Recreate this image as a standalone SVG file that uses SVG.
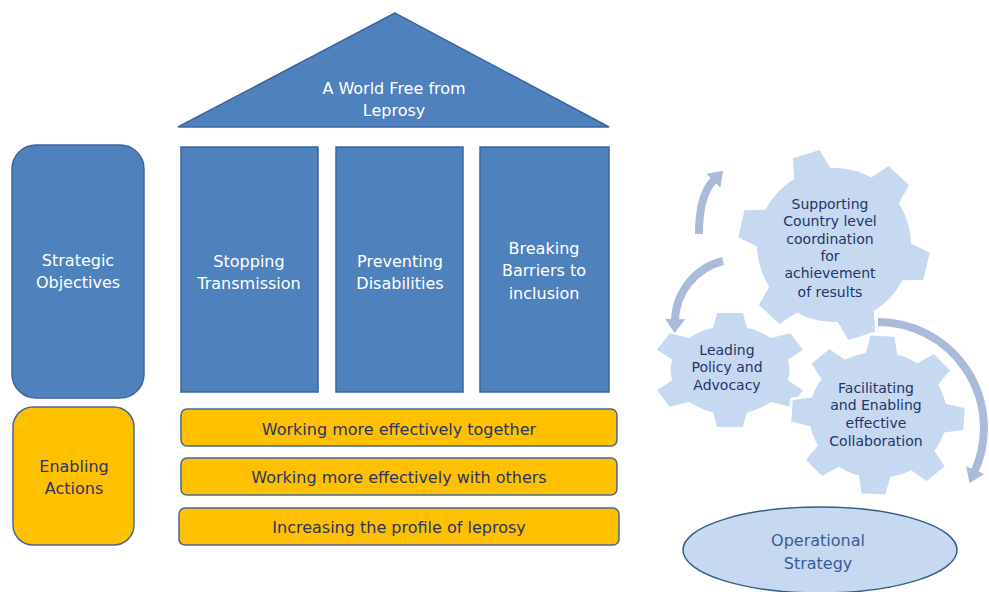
<svg xmlns="http://www.w3.org/2000/svg" xmlns:xlink="http://www.w3.org/1999/xlink" width="989" height="592" viewBox="0 0 989 592">
<style>
.blue{fill:#4F81BD;stroke:#3B64A0;stroke-width:1.5}
.yel{fill:#FFC000;stroke:#4A6796;stroke-width:1.5}
.tw{font-family:"DejaVu Sans",sans-serif;font-size:16px;fill:#FFFFFF;text-anchor:middle}
.td{font-family:"DejaVu Sans",sans-serif;font-size:16px;fill:#2B3566;text-anchor:middle}
.tg{font-family:"DejaVu Sans",sans-serif;font-size:14px;fill:#23346A;text-anchor:middle}
.te{font-family:"DejaVu Sans",sans-serif;font-size:16px;fill:#3A5C96;text-anchor:middle}
.gout{fill:#C6D9F0;stroke:#FFFFFF;stroke-width:5;stroke-linejoin:round}
.gfill{fill:#C6D9F0;stroke:none}
.arc{fill:none;stroke:#A9BBD8;stroke-width:8}
</style>
<defs>
<marker id="ah" markerUnits="userSpaceOnUse" viewBox="0 0 14 20" refX="1" refY="10" markerWidth="14" markerHeight="20" orient="auto">
<path d="M0,0 L14,10 L0,20 z" fill="#A9BBD8"/>
</marker>
<polygon id="tA" points="-20,-70 20,-70 14,-95 -14,-95"/>
<g id="gearA">
<circle r="77"/>
<use xlink:href="#tA" transform="rotate(-17)"/>
<use xlink:href="#tA" transform="rotate(43)"/>
<use xlink:href="#tA" transform="rotate(103)"/>
<use xlink:href="#tA" transform="rotate(163)"/>
<use xlink:href="#tA" transform="rotate(223)"/>
<use xlink:href="#tA" transform="rotate(283)"/>
</g>
<polygon id="tB" points="-13,-40 13,-40 9.5,-57 -9.5,-57"/>
<g id="gearB">
<circle r="44"/>
<use xlink:href="#tB" transform="rotate(0)"/>
<use xlink:href="#tB" transform="rotate(60)"/>
<use xlink:href="#tB" transform="rotate(120)"/>
<use xlink:href="#tB" transform="rotate(180)"/>
<use xlink:href="#tB" transform="rotate(240)"/>
<use xlink:href="#tB" transform="rotate(300)"/>
</g>
<polygon id="tC" points="-15,-58 15,-58 11,-79 -11,-79"/>
<g id="gearC">
<circle r="63"/>
<use xlink:href="#tC" transform="rotate(3)"/>
<use xlink:href="#tC" transform="rotate(48)"/>
<use xlink:href="#tC" transform="rotate(93)"/>
<use xlink:href="#tC" transform="rotate(138)"/>
<use xlink:href="#tC" transform="rotate(183)"/>
<use xlink:href="#tC" transform="rotate(228)"/>
<use xlink:href="#tC" transform="rotate(273)"/>
<use xlink:href="#tC" transform="rotate(318)"/>
</g>
</defs>
<rect width="989" height="592" fill="#FFFFFF"/>

<g id="roof">
<polygon class="blue" points="395,13 178,127 609,127"/>
<text class="tw" x="394" y="94">A World Free from</text>
<text class="tw" x="394" y="116">Leprosy</text>
</g>

<g id="strategic-objectives">
<rect class="blue" x="12" y="145" width="132" height="253" rx="24"/>
<text class="tw" x="78" y="266">Strategic</text>
<text class="tw" x="78" y="288">Objectives</text>
</g>

<g id="stopping-transmission">
<rect class="blue" x="181" y="147" width="137" height="245"/>
<text class="tw" x="249" y="267">Stopping</text>
<text class="tw" x="249" y="289">Transmission</text>
</g>

<g id="preventing-disabilities">
<rect class="blue" x="336" y="147" width="127" height="245"/>
<text class="tw" x="400" y="267">Preventing</text>
<text class="tw" x="400" y="289">Disabilities</text>
</g>

<g id="breaking-barriers">
<rect class="blue" x="480" y="147" width="129" height="245"/>
<text class="tw" x="544" y="254">Breaking</text>
<text class="tw" x="544" y="276">Barriers to</text>
<text class="tw" x="544" y="299">inclusion</text>
</g>

<g id="enabling-actions">
<rect class="yel" x="13" y="407" width="121" height="138" rx="20"/>
<text class="td" x="74" y="472">Enabling</text>
<text class="td" x="74" y="494">Actions</text>
</g>

<g id="working-together">
<rect class="yel" x="181" y="409" width="436" height="37" rx="6"/>
<text class="td" x="399" y="435">Working more effectively together</text>
</g>

<g id="working-with-others">
<rect class="yel" x="181" y="458" width="436" height="37" rx="6"/>
<text class="td" x="399" y="483">Working more effectively with others</text>
</g>

<g id="increasing-profile">
<rect class="yel" x="179" y="508" width="440" height="37" rx="6"/>
<text class="td" x="399" y="533">Increasing the profile of leprosy</text>
</g>

<g id="gear-supporting">
<use xlink:href="#gearA" class="gout" transform="translate(834,245)"/>
<use xlink:href="#gearA" class="gfill" transform="translate(834,245)"/>
<text class="tg" x="830" y="209">Supporting</text>
<text class="tg" x="830" y="226">Country level</text>
<text class="tg" x="830" y="244">coordination</text>
<text class="tg" x="830" y="261">for</text>
<text class="tg" x="830" y="278">achievement</text>
<text class="tg" x="830" y="297">of results</text>
</g>

<g id="gear-leading">
<use xlink:href="#gearB" class="gout" transform="translate(730,370) scale(1.35,1)"/>
<use xlink:href="#gearB" class="gfill" transform="translate(730,370) scale(1.35,1)"/>
<text class="tg" x="727" y="355">Leading</text>
<text class="tg" x="727" y="372">Policy and</text>
<text class="tg" x="727" y="390">Advocacy</text>
</g>

<g id="gear-facilitating">
<use xlink:href="#gearC" class="gout" transform="translate(878,415) scale(1.09,1)"/>
<use xlink:href="#gearC" class="gfill" transform="translate(878,415) scale(1.09,1)"/>
<text class="tg" x="876" y="393">Facilitating</text>
<text class="tg" x="876" y="410">and Enabling</text>
<text class="tg" x="876" y="428">effective</text>
<text class="tg" x="876" y="446">Collaboration</text>
</g>

<g id="connectors">
<path class="arc" d="M699,234 Q699,195 714,180" marker-end="url(#ah)"/>
<path class="arc" d="M723,261 A63,63 0 0 0 675,320" marker-end="url(#ah)"/>
<path class="arc" d="M878,322 A106,106 0 0 1 974.8,471" marker-end="url(#ah)"/>
</g>

<g id="operational-strategy">
<ellipse cx="820" cy="550" rx="137" ry="43" fill="#C6D9F1" stroke="#385D8A" stroke-width="1.5"/>
<text class="te" x="818" y="546">Operational</text>
<text class="te" x="818" y="569">Strategy</text>
</g>
</svg>
